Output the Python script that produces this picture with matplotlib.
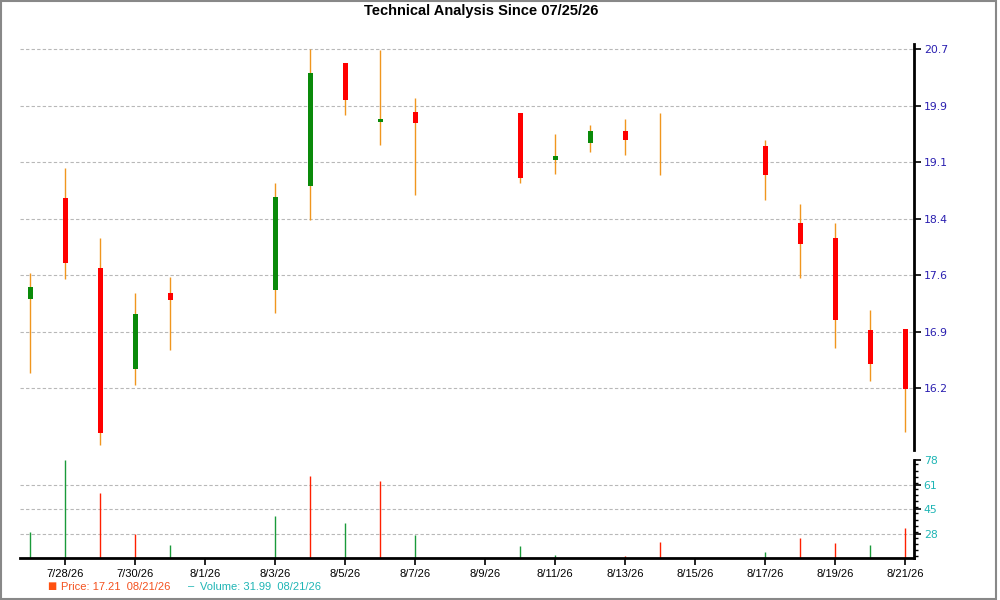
import matplotlib
matplotlib.use('Agg')
import matplotlib.pyplot as plt
import matplotlib.dates as mdates
from matplotlib.ticker import FixedLocator, FuncFormatter, MultipleLocator
from matplotlib.patches import Rectangle
import numpy as np
import pandas as pd

# daily candles (weekends have no bars)
dates = ['2026-07-27', '2026-07-28', '2026-07-29', '2026-07-30', '2026-07-31',
         '2026-08-03', '2026-08-04', '2026-08-05', '2026-08-06', '2026-08-07',
         '2026-08-10', '2026-08-11', '2026-08-12', '2026-08-13', '2026-08-14',
         '2026-08-17', '2026-08-18', '2026-08-19', '2026-08-20', '2026-08-21']
opens = [17.39, 18.72, 17.80, 16.45, 17.47, 17.51, 18.89, 20.52, 19.74, 19.87,
         19.85, 19.23, 19.45, 19.62, 19.41, 19.41, 18.39, 18.19, 16.97, 16.98]
highs = [17.73, 19.13, 18.20, 17.47, 17.67, 18.92, 20.70, 20.52, 20.69, 20.05,
         19.85, 19.57, 19.70, 19.78, 19.85, 19.50, 18.65, 18.39, 17.24, 16.98]
lows = [16.40, 17.65, 15.44, 16.24, 16.71, 17.20, 18.43, 19.83, 19.43, 18.77,
        18.92, 19.05, 19.34, 19.30, 19.03, 18.70, 17.66, 16.74, 16.29, 15.62]
closes = [17.55, 17.86, 15.60, 17.18, 17.37, 18.74, 20.38, 20.02, 19.78, 19.72,
          18.99, 19.28, 19.62, 19.49, 19.41, 19.03, 18.12, 17.11, 16.52, 16.19]
volumes = [29.1, 78.0, 55.6, 27.8, 20.3, 40.0, 67.4, 35.2, 63.7, 27.1,
           19.6, 13.5, 11.0, 12.9, 22.4, 15.1, 25.1, 21.2, 20.5, 32.0]
vol_up = [True, True, False, False, True, True, False, True, False, True,
          True, True, True, False, False, True, False, False, True, False]

price_tick_labels = ['16.2', '16.9', '17.6', '18.4', '19.1', '19.9', '20.7']
vol_tick_labels = ['28', '45', '61', '78']

title = 'Technical Analysis Since 07/25/26'
price_legend = 'Price: 17.21  08/21/26'
volume_legend = 'Volume: 31.99  08/21/26'

x = mdates.date2num(pd.to_datetime(dates))

GREEN = '#0a8a0a'
RED = '#ff0000'
WICK = '#f0961e'
PRICE_LBL = '#2a1fb0'
VOL_LBL = '#1fb5b5'

fig = plt.figure(figsize=(10, 6), dpi=100)
ax = fig.add_axes([0.02, 0.25, 0.894, 0.6767])
axv = fig.add_axes([0.02, 0.07, 0.894, 0.1633], sharex=ax)

# candles
for xi, o, h, l, c in zip(x, opens, highs, lows, closes):
    ax.vlines(xi, l, h, color=WICK, linewidth=1, zorder=2)
    if c != o:
        ax.bar(xi, abs(c - o), bottom=min(o, c), width=0.13,
               color=GREEN if c > o else RED, edgecolor='none', zorder=3)

price_ticks = np.linspace(16.2, 20.7, 7)
ax.set_ylim(15.38, 20.77)
ax.yaxis.tick_right()
ax.yaxis.set_major_locator(FixedLocator(price_ticks))
ax.set_yticklabels(price_tick_labels)
ax.tick_params(axis='y', colors='black', labelcolor=PRICE_LBL, length=5, width=1.2,
               pad=2, labelsize=7.8)
ax.tick_params(axis='x', bottom=False, labelbottom=False)
ax.grid(axis='y', color='#b8b8b8', linestyle=(0, (3, 2)), linewidth=0.8)
for s in ['left', 'top', 'bottom']:
    ax.spines[s].set_visible(False)
ax.spines['right'].set_linewidth(2)
ax.spines['right'].set_color('black')

# volume
vcolors = ['#1a9a3a' if up else '#ff2000' for up in vol_up]
axv.vlines(x, 0, volumes, colors=vcolors, linewidth=1)
vol_ticks = np.linspace(28, 78, 4)
axv.set_ylim(11.33, 78)
axv.yaxis.tick_right()
axv.yaxis.set_major_locator(FixedLocator(vol_ticks))
axv.set_yticklabels(vol_tick_labels)
axv.yaxis.set_minor_locator(MultipleLocator((78 - 28) / 12))
axv.tick_params(axis='y', which='major', colors='black', labelcolor=VOL_LBL,
                length=5, width=1.2, pad=2, labelsize=7.8)
axv.tick_params(axis='y', which='minor', colors='black', length=3, width=1)
axv.grid(axis='y', color='#b8b8b8', linestyle=(0, (3, 2)), linewidth=0.8)
axv.yaxis.get_gridlines()[-1].set_visible(False)
for s in ['left', 'top']:
    axv.spines[s].set_visible(False)
for s in ['right', 'bottom']:
    axv.spines[s].set_linewidth(2)
    axv.spines[s].set_color('black')

xticks = mdates.date2num(pd.date_range('2026-07-28', '2026-08-21', freq='2D'))
axv.xaxis.set_major_locator(FixedLocator(xticks))


def fmt_date(v, pos):
    d = mdates.num2date(v)
    return f'{d.month}/{d.day}/{d:%y}'


axv.xaxis.set_major_formatter(FuncFormatter(fmt_date))
axv.tick_params(axis='x', length=5, width=1.2, pad=3, labelsize=8)
for lbl in axv.get_xticklabels():
    lbl.set_fontfamily('Liberation Sans')
axv.set_xlim(x[0] - 0.294, x[0] + 25.25)

fig.text(0.481, 0.982, title, ha='center', va='center', fontsize=10.5,
         fontweight='bold', family='Liberation Sans')

# legend row
fig.text(0.047, 0.0225, '■', ha='left', va='center', fontsize=7, color='#ff5010')
fig.text(0.061, 0.0225, price_legend, ha='left', va='center', fontsize=8,
         color='#f4511e', family='Liberation Sans')
fig.text(0.188, 0.0225, '–', ha='left', va='center', fontsize=8,
         color=VOL_LBL, family='Liberation Sans')
fig.text(0.200, 0.0225, volume_legend, ha='left', va='center', fontsize=8,
         color=VOL_LBL, family='Liberation Sans')

fig.patches.append(Rectangle((0.0005, 0.0015), 0.9955, 0.997, transform=fig.transFigure,
                             fill=False, edgecolor='#888888', linewidth=1.5))

fig.savefig('out.png', dpi=100)
